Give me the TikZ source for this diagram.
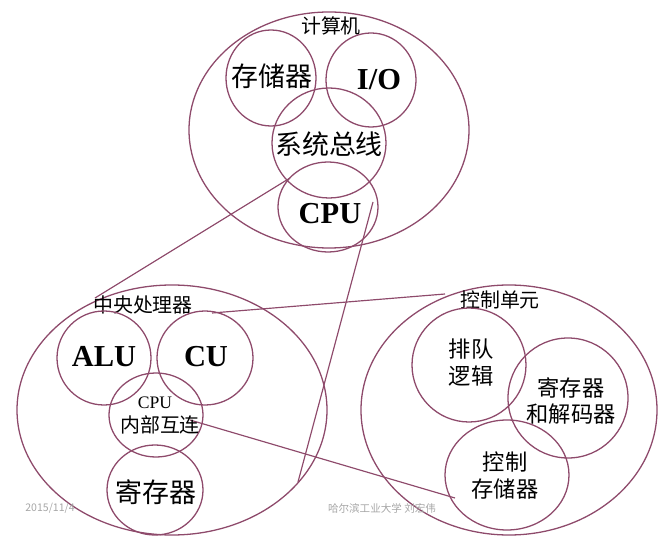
\documentclass[tikz,border=0pt]{standalone}
\usepackage{fontspec}
\setmainfont{Liberation Serif}
\newfontfamily\cjk{Noto Sans CJK SC}
\definecolor{ring}{HTML}{8E4A6B}
\begin{document}
\begin{tikzpicture}[x=0.03cm,y=-0.03cm,
  ov/.style={draw=ring,line width=1.1pt},
  lk/.style={draw=ring,line width=1pt},
  zh/.style={font=\cjk\fontsize{23}{26}\selectfont},
  zhm/.style={font=\cjk\fontsize{19}{23}\selectfont},
  zhs/.style={font=\cjk\fontsize{17}{19}\selectfont},
  en/.style={font=\bfseries\fontsize{26}{28}\selectfont},
  ft/.style={font=\cjk\fontsize{9}{10}\selectfont,text=gray!70}]
\useasboundingbox (0,0) rectangle (667,536);
\coordinate (l1a) at (290,178); \coordinate (l1b) at (95,298);
\coordinate (l2a) at (373,202); \coordinate (l2b) at (298,482);
\coordinate (l3a) at (212,313); \coordinate (l3b) at (445,294);
\coordinate (l4a) at (190,420); \coordinate (l4b) at (455,498);
\draw[lk] (l1a) -- (l1b);
\draw[lk] (l2a) -- (l2b);
\draw[lk] (l3a) -- (l3b);
\draw[lk] (l4a) -- (l4b);
% computer
\draw[ov] (329,130) ellipse [x radius=140,y radius=118];
\node[zhs] (t1) at (331,26) {计算机};
\draw[ov] (271,78) ellipse [x radius=45,y radius=48];
\node[zh] (a) at (272,76) {存储器};
\draw[ov] (371,80) ellipse [x radius=45,y radius=47];
\node[en] (io) at (379,80) {I/O};
\draw[ov] (329,143) ellipse [x radius=57,y radius=55];
\node[zh] (bus) at (329,144) {系统总线};
\draw[ov] (328,207) ellipse [x radius=50,y radius=45];
\node[en] (cpu) at (330,214) {CPU};
% cpu
\draw[ov] (172,410) ellipse [x radius=155,y radius=125];
\node[zhs] (t2) at (143,305) {中央处理器};
\draw[ov] (104,358) ellipse [x radius=47,y radius=47];
\node[en] (alu) at (104,357) {ALU};
\draw[ov] (205,358) ellipse [x radius=48,y radius=47];
\node[en] (cu) at (206,357) {CU};
\draw[ov] (156,415) ellipse [x radius=47,y radius=42];
\node[font=\fontsize{15}{16}\selectfont] (ic1) at (155,403) {CPU};
\node[zhs] (ic2) at (160,425) {内部互连};
\draw[ov] (155,490) ellipse [x radius=48,y radius=45];
\node[zh] (reg) at (156,492) {寄存器};
% control unit
\draw[ov] (509,410) ellipse [x radius=148,y radius=125];
\node[zhs] (t3) at (500,300) {控制单元};
\draw[ov] (469,365) ellipse [x radius=57,y radius=57];
\node[zhm,align=center] (q) at (471,363) {排队\\逻辑};
\draw[ov] (568,398) ellipse [x radius=60,y radius=60];
\node[zhm,align=center] (rd) at (571,401) {寄存器\\和解码器};
\draw[ov] (507,475) ellipse [x radius=62,y radius=55];
\node[zhm,align=center] (cs) at (505,476) {控制\\存储器};
\node[ft] (f1) at (50,508) {2015/11/4};
\node[ft] (f2) at (382,508) {哈尔滨工业大学 刘宏伟};
\end{tikzpicture}
\end{document}
